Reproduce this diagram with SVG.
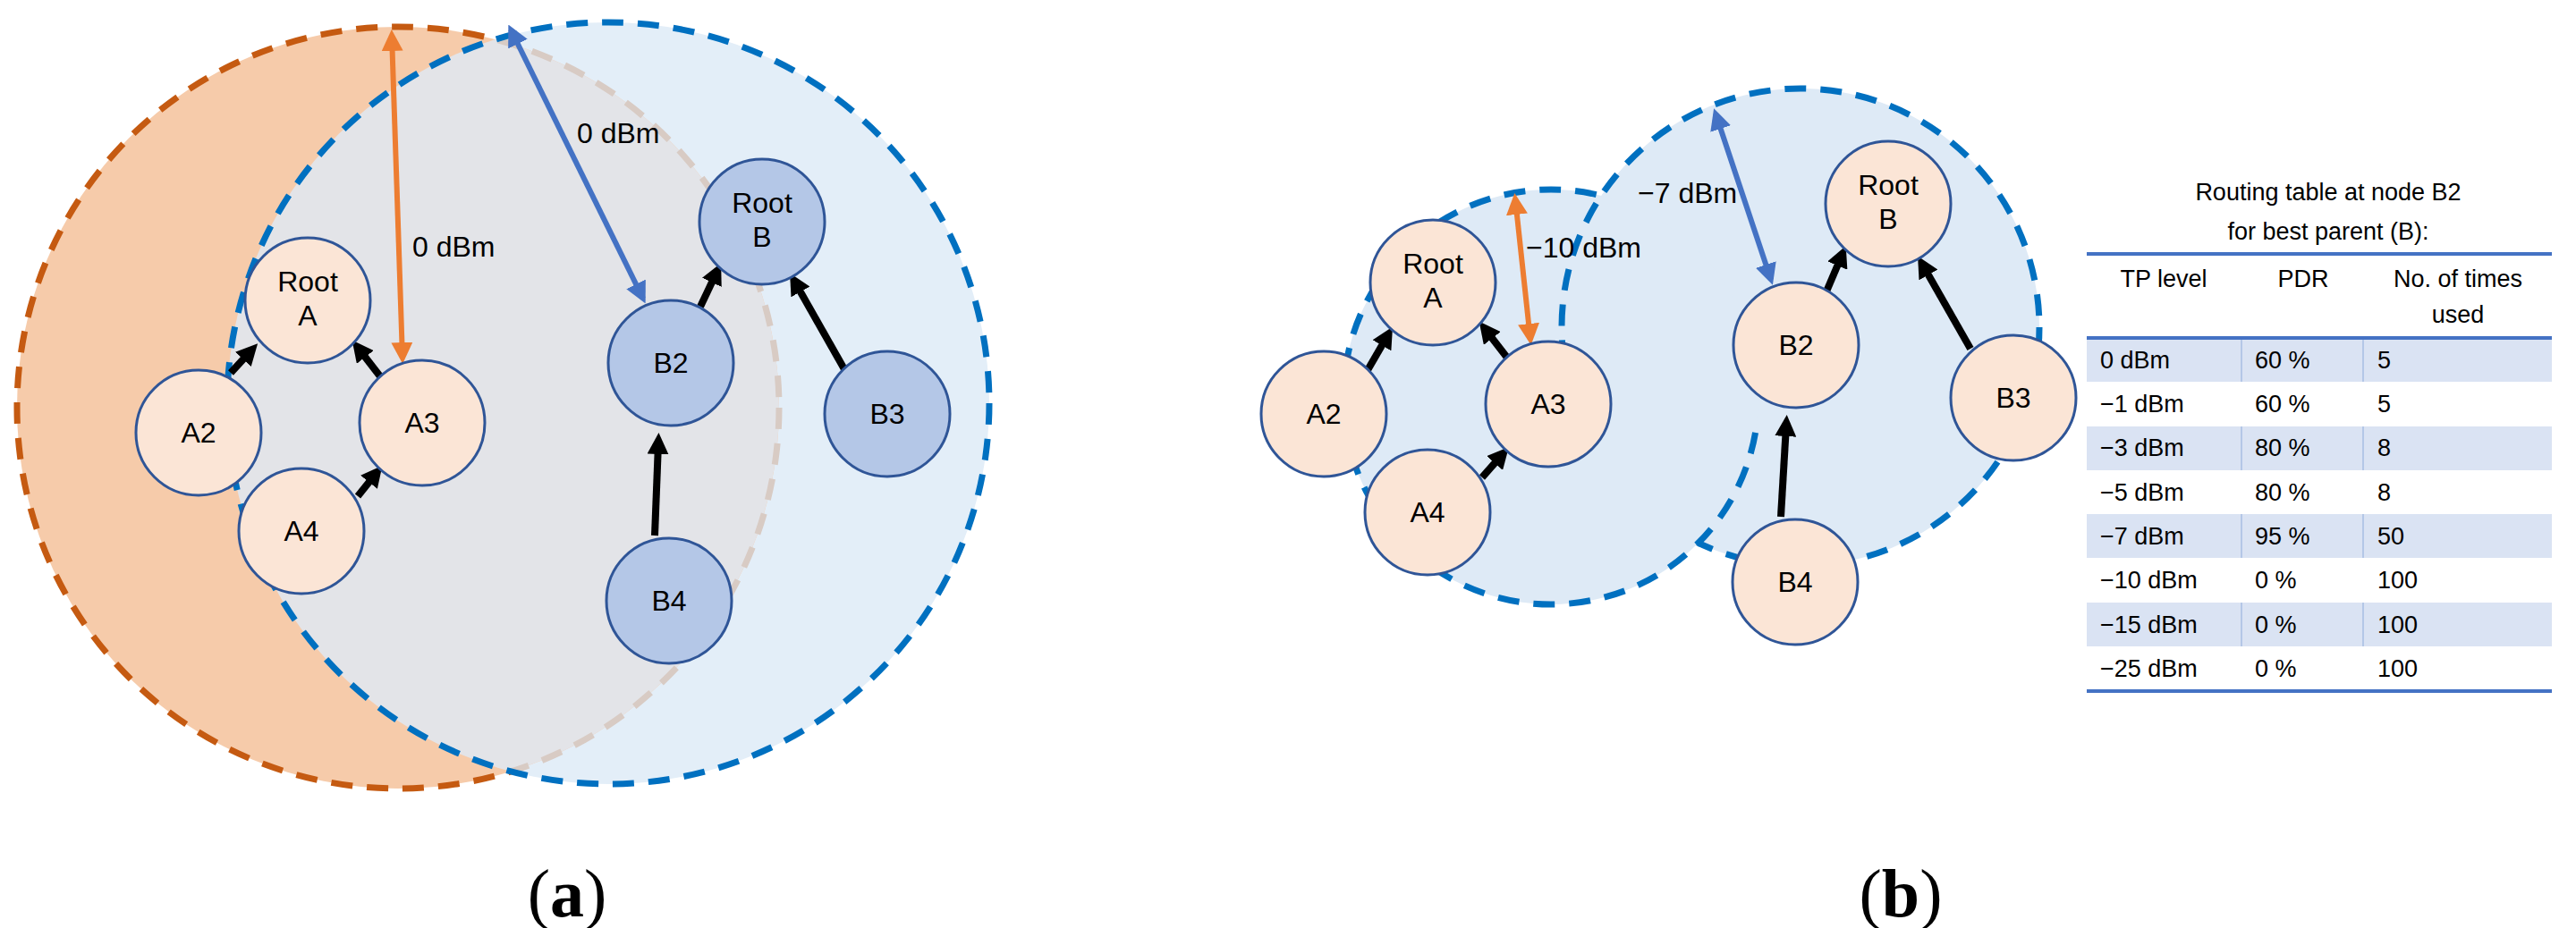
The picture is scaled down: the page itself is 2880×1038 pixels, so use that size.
<svg xmlns="http://www.w3.org/2000/svg" width="2880" height="1038" viewBox="0 0 2880 1038">
<style>
.n{stroke:#2f5597;stroke-width:3}
.na{fill:#fbe5d6}.nb{fill:#b4c7e7}
.t{font-family:"Liberation Sans",Arial,sans-serif;font-size:32px;fill:#000}
.c{text-anchor:middle}
.e{stroke:#000;stroke-width:8;fill:none;marker-end:url(#ah)}
.tb{font-family:"Liberation Sans",Arial,sans-serif;font-size:27px;fill:#000}
</style>
<defs>
<marker id="ah" markerWidth="3" markerHeight="3" refX="1.5" refY="1.5" orient="auto"><path d="M0,0L3,1.5L0,3z" fill="#000"/></marker>
<marker id="ao" markerWidth="4" markerHeight="4" refX="3" refY="2" orient="auto-start-reverse"><path d="M0,0L4,2L0,4z" fill="#ed7d31"/></marker>
<marker id="ab" markerWidth="4" markerHeight="4" refX="3" refY="2" orient="auto-start-reverse"><path d="M0,0L4,2L0,4z" fill="#4472c4"/></marker>
<clipPath id="cb"><circle cx="680" cy="451" r="426"/></clipPath>
<mask id="mo"><rect width="2880" height="1038" fill="#fff"/><circle cx="680" cy="451" r="426" fill="#000"/></mask>
<clipPath id="top"><rect x="0" y="0" width="2880" height="470"/></clipPath>
<clipPath id="bot"><rect x="0" y="470" width="2880" height="600"/></clipPath>
<mask id="mA"><rect width="2880" height="1038" fill="#fff"/><circle cx="2013" cy="366" r="267" fill="#000" clip-path="url(#top)"/></mask>
<mask id="mB"><rect width="2880" height="1038" fill="#fff"/><circle cx="1734" cy="444" r="232" fill="#000" clip-path="url(#bot)"/></mask>
</defs>
<g id="panel-a-ranges">
<circle cx="680" cy="451" r="426" fill="#e3eef8"/>
<circle cx="445" cy="456" r="426" fill="#f6cbaa"/>
<circle cx="445" cy="456" r="426" fill="#e3e4e8" clip-path="url(#cb)"/>
<circle cx="445" cy="456" r="426" fill="none" stroke="#c55a11" stroke-width="7" stroke-dasharray="24 16" mask="url(#mo)"/>
<circle cx="445" cy="456" r="426" fill="none" stroke="#d8cbc4" stroke-width="7" stroke-dasharray="24 16" clip-path="url(#cb)"/>
<circle cx="680" cy="451" r="426" fill="none" stroke="#0070c0" stroke-width="7" stroke-dasharray="24 16"/>
</g>
<g id="panel-b-ranges">
<circle cx="2013" cy="366" r="267" fill="#deeaf6"/>
<circle cx="1734" cy="444" r="232" fill="#deeaf6"/>
<circle cx="1734" cy="444" r="232" fill="none" stroke="#0070c0" stroke-width="7" stroke-dasharray="24 16" mask="url(#mA)"/>
<circle cx="2013" cy="366" r="267" fill="none" stroke="#0070c0" stroke-width="7" stroke-dasharray="24 16" mask="url(#mB)"/>
</g>
<g id="connectors">
<line x1="438" y1="39" x2="450" y2="401" stroke="#ed7d31" stroke-width="6" marker-start="url(#ao)" marker-end="url(#ao)"/>
<line x1="571" y1="33" x2="719" y2="334" stroke="#4472c4" stroke-width="6" marker-start="url(#ab)" marker-end="url(#ab)"/>
<line x1="1694" y1="222" x2="1711" y2="380" stroke="#ed7d31" stroke-width="6" marker-start="url(#ao)" marker-end="url(#ao)"/>
<line x1="1918" y1="127" x2="1980" y2="313" stroke="#4472c4" stroke-width="6" marker-start="url(#ab)" marker-end="url(#ab)"/>
<line class="e" x1="258" y1="417" x2="280" y2="393"/>
<line class="e" x1="425" y1="421" x2="401" y2="390"/>
<line class="e" x1="400" y1="555" x2="420" y2="530"/>
<line class="e" x1="783" y1="343" x2="801" y2="305"/>
<line class="e" x1="944" y1="413" x2="889" y2="316"/>
<line class="e" x1="732" y1="599" x2="736" y2="496"/>
<line class="e" x1="1529" y1="414" x2="1551" y2="376"/>
<line class="e" x1="1685" y1="400" x2="1661" y2="369"/>
<line class="e" x1="1657" y1="534" x2="1679" y2="509"/>
<line class="e" x1="2042" y1="326" x2="2059" y2="286"/>
<line class="e" x1="2203" y1="390" x2="2150" y2="297"/>
<line class="e" x1="1991" y1="578" x2="1997" y2="476"/>
</g>
<g id="labels">
<text class="t" x="461" y="287">0 dBm</text>
<text class="t" x="645" y="160">0 dBm</text>
<text class="t" x="1706" y="288">−10 dBm</text>
<text class="t" x="1831" y="227">−7 dBm</text>
<text x="634" y="1025" font-family="Liberation Serif,serif" font-size="76" text-anchor="middle">(<tspan font-weight="bold">a</tspan>)</text>
<text x="2125" y="1025" font-family="Liberation Serif,serif" font-size="76" text-anchor="middle">(<tspan font-weight="bold">b</tspan>)</text>
</g>
<g id="a-RootA"><circle class="n na" cx="344" cy="336" r="70"/><text class="t c" x="344" y="326">Root</text><text class="t c" x="344" y="364">A</text></g>
<g id="a-A2"><circle class="n na" cx="222" cy="484" r="70"/><text class="t c" x="222" y="495">A2</text></g>
<g id="a-A3"><circle class="n na" cx="472" cy="473" r="70"/><text class="t c" x="472" y="484">A3</text></g>
<g id="a-A4"><circle class="n na" cx="337" cy="594" r="70"/><text class="t c" x="337" y="605">A4</text></g>
<g id="a-RootB"><circle class="n nb" cx="852" cy="248" r="70"/><text class="t c" x="852" y="238">Root</text><text class="t c" x="852" y="276">B</text></g>
<g id="a-B2"><circle class="n nb" cx="750" cy="406" r="70"/><text class="t c" x="750" y="417">B2</text></g>
<g id="a-B3"><circle class="n nb" cx="992" cy="463" r="70"/><text class="t c" x="992" y="474">B3</text></g>
<g id="a-B4"><circle class="n nb" cx="748" cy="672" r="70"/><text class="t c" x="748" y="683">B4</text></g>
<g id="b-RootA"><circle class="n na" cx="1602" cy="316" r="70"/><text class="t c" x="1602" y="306">Root</text><text class="t c" x="1602" y="344">A</text></g>
<g id="b-A2"><circle class="n na" cx="1480" cy="463" r="70"/><text class="t c" x="1480" y="474">A2</text></g>
<g id="b-A3"><circle class="n na" cx="1731" cy="452" r="70"/><text class="t c" x="1731" y="463">A3</text></g>
<g id="b-A4"><circle class="n na" cx="1596" cy="573" r="70"/><text class="t c" x="1596" y="584">A4</text></g>
<g id="b-RootB"><circle class="n na" cx="2111" cy="228" r="70"/><text class="t c" x="2111" y="218">Root</text><text class="t c" x="2111" y="256">B</text></g>
<g id="b-B2"><circle class="n na" cx="2008" cy="386" r="70"/><text class="t c" x="2008" y="397">B2</text></g>
<g id="b-B3"><circle class="n na" cx="2251" cy="445" r="70"/><text class="t c" x="2251" y="456">B3</text></g>
<g id="b-B4"><circle class="n na" cx="2007" cy="651" r="70"/><text class="t c" x="2007" y="662">B4</text></g>
<g id="table">
<text class="tb c" x="2603" y="224" font-size="34">Routing table at node B2</text>
<text class="tb c" x="2603" y="268" font-size="34">for best parent (B):</text>
<g fill="#dae3f3">
<rect x="2333" y="378" width="520" height="49"/><rect x="2333" y="477" width="520" height="49"/><rect x="2333" y="575" width="520" height="49"/><rect x="2333" y="674" width="520" height="49"/>
</g>
<g stroke="#b4c7e7" stroke-width="2">
<line x1="2506" y1="378" x2="2506" y2="427"/><line x1="2642" y1="378" x2="2642" y2="427"/>
<line x1="2506" y1="477" x2="2506" y2="526"/><line x1="2642" y1="477" x2="2642" y2="526"/>
<line x1="2506" y1="575" x2="2506" y2="624"/><line x1="2642" y1="575" x2="2642" y2="624"/>
<line x1="2506" y1="674" x2="2506" y2="723"/><line x1="2642" y1="674" x2="2642" y2="723"/>
</g>
<g stroke="#4472c4" stroke-width="4">
<line x1="2333" y1="284" x2="2853" y2="284"/><line x1="2333" y1="378" x2="2853" y2="378"/><line x1="2333" y1="773" x2="2853" y2="773"/>
</g>
<text class="tb c" x="2419" y="321">TP level</text><text class="tb c" x="2575" y="321">PDR</text><text class="tb c" x="2748" y="321">No. of times</text><text class="tb c" x="2748" y="361">used</text>
<g class="tb">
<text x="2348" y="412">0 dBm</text><text x="2521" y="412">60 %</text><text x="2658" y="412">5</text>
<text x="2348" y="461">−1 dBm</text><text x="2521" y="461">60 %</text><text x="2658" y="461">5</text>
<text x="2348" y="510">−3 dBm</text><text x="2521" y="510">80 %</text><text x="2658" y="510">8</text>
<text x="2348" y="560">−5 dBm</text><text x="2521" y="560">80 %</text><text x="2658" y="560">8</text>
<text x="2348" y="609">−7 dBm</text><text x="2521" y="609">95 %</text><text x="2658" y="609">50</text>
<text x="2348" y="658">−10 dBm</text><text x="2521" y="658">0 %</text><text x="2658" y="658">100</text>
<text x="2348" y="708">−15 dBm</text><text x="2521" y="708">0 %</text><text x="2658" y="708">100</text>
<text x="2348" y="757">−25 dBm</text><text x="2521" y="757">0 %</text><text x="2658" y="757">100</text>
</g>
</g>
</svg>
